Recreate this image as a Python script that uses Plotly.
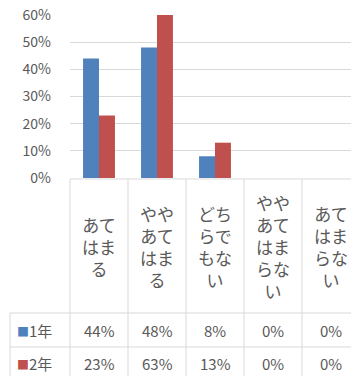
import plotly.graph_objects as go

# ---- data ----
categories = ["あて<br>はま<br>る", "やや<br>あて<br>はま<br>る", "どち<br>らで<br>もな<br>い",
              "やや<br>あて<br>はま<br>らな<br>い", "あて<br>はま<br>らな<br>い"]
series_names = ["1年", "2年"]
values_1 = [0.44, 0.48, 0.08, 0.0, 0.0]
values_2 = [0.23, 0.63, 0.13, 0.0, 0.0]
series_values = [values_1, values_2]
y_ticks = [0, 0.1, 0.2, 0.3, 0.4, 0.5, 0.6]
y_tick_labels = ["0%", "10%", "20%", "30%", "40%", "50%", "60%"]

colors = ["#4F81BD", "#C0504D"]
W, H = 351, 376
L, T, PB = 70, 15, 178          # plot left, top, bottom in px
COLW = 58                         # category column width in px
x0 = -0.5
x1 = x0 + (W - L) / COLW
grid = "#D9D9D9"
txt = "#595959"
FONT = "Noto Sans CJK JP"

def px(xp):
    return (xp - L) / (W - L)

def py(yp):
    return (PB - yp) / (PB - T)

def cx(c):
    return (c - x0) / (x1 - x0)

fig = go.Figure()
idx = list(range(len(categories)))
for name, vals, col in zip(series_names, series_values, colors):
    fig.add_trace(go.Bar(x=idx, y=vals, name=name, marker_color=col,
                         marker_line_width=0, showlegend=False, hoverinfo="skip"))

fig.update_layout(
    width=W, height=H, margin=dict(l=L, r=0, t=T, b=H - PB),
    paper_bgcolor="white", plot_bgcolor="white",
    barmode="group", bargap=0.45, bargroupgap=0,
    font=dict(family=FONT, color=txt, size=14),
    xaxis=dict(range=[x0, x1], showticklabels=False, showgrid=False,
               zeroline=False, showline=False, ticks=""),
    yaxis=dict(range=[0, 0.6], tickvals=y_ticks, ticktext=y_tick_labels,
               showgrid=True, gridcolor=grid, gridwidth=1, zeroline=False,
               showline=False, ticks="", ticklabelstandoff=18,
               tickfont=dict(size=14, color=txt)),
)

shapes = []
def line(xa, ya, xb, yb):
    shapes.append(dict(type="line", xref="paper", yref="paper",
                       x0=xa, y0=ya, x1=xb, y1=yb,
                       line=dict(color=grid, width=1)))

n = len(categories)
bottom = py(H + 5)
line(cx(x0), py(179), cx(n - 0.5), py(179))
for k in range(n + 1):
    xx = cx(x0 + k)
    line(xx, py(179), xx, bottom)
row_tops = [313, 347]
left_px = 10
for r in row_tops:
    line(px(left_px), py(r), cx(n - 0.5), py(r))
line(px(left_px), py(row_tops[0]), px(left_px), bottom)
fig.update_layout(shapes=shapes)

ann = []
for i, c in enumerate(categories):
    ann.append(dict(xref="paper", yref="paper", x=cx(i), y=py(246),
                    text=c, showarrow=False, xanchor="center", yanchor="middle",
                    font=dict(size=17, color=txt, family=FONT)))
row_centers = [330, 363]
for r, (name, vals, col) in enumerate(zip(series_names, series_values, colors)):
    ann.append(dict(xref="paper", yref="paper", x=px(15), y=py(row_centers[r]),
                    text=f'<span style="color:{col}; font-size:12px">■</span>{name}',
                    showarrow=False, xanchor="left", yanchor="middle",
                    font=dict(size=15, color=txt, family=FONT)))
    for i, v in enumerate(vals):
        ann.append(dict(xref="paper", yref="paper", x=cx(i), y=py(row_centers[r]),
                        text=f"{round(v * 100)}%", showarrow=False,
                        xanchor="center", yanchor="middle",
                        font=dict(size=15, color=txt, family=FONT)))
fig.update_layout(annotations=ann)

fig.write_html("out.html", config={"displayModeBar": False},
               post_script="document.body.style.margin='0';document.body.style.overflow='hidden';")
